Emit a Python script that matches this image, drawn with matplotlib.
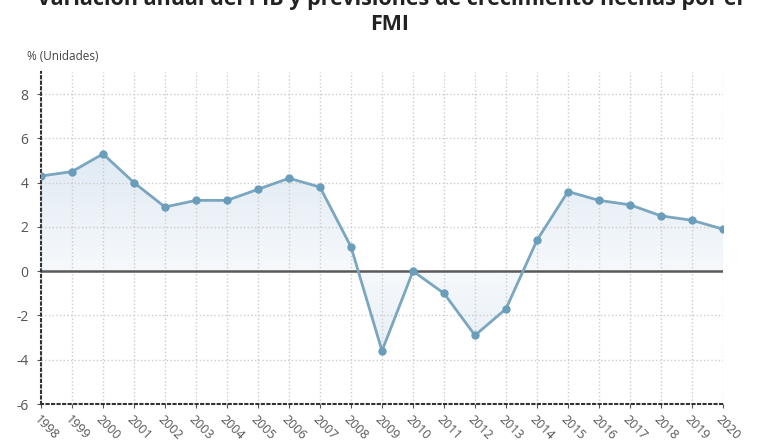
import matplotlib.pyplot as plt
import numpy as np
from matplotlib.colors import LinearSegmentedColormap

# Datos: variacion anual del PIB (%)
years = list(range(1998, 2021))
pib = [4.3, 4.5, 5.3, 4.0, 2.9, 3.2, 3.2, 3.7, 4.2, 3.8, 1.1, -3.6, 0.0,
       -1.0, -2.9, -1.7, 1.4, 3.6, 3.2, 3.0, 2.5, 2.3, 1.9]
y_ticks = [-6, -4, -2, 0, 2, 4, 6, 8]

plt.rcParams['font.family'] = ['Open Sans', 'DejaVu Sans']

fig = plt.figure(figsize=(7.8, 4.4), dpi=100)
ax = fig.add_axes([41 / 780, 36 / 440, 682 / 780, 332 / 440])

line_col = '#7aa6bf'

# area with a soft gradient (darker away from zero)
fill = ax.fill_between(years, pib, 0, color='none', lw=0, zorder=1)
cmap = LinearSegmentedColormap.from_list('area', ['#f6f9fc', '#dfeaf3'])
grad = np.abs(np.linspace(9, -6, 300))[:, None] * np.ones((1, 10))
img = ax.imshow(grad, cmap=cmap, vmin=0, vmax=5.5, aspect='auto',
                extent=[1998, 2020, -6, 9], zorder=1)
img.set_clip_path(fill.get_paths()[0], transform=ax.transData)

ax.axhline(0, color='#5a5a5a', lw=1.8, zorder=2)
ax.plot(years, pib, color=line_col, lw=2, marker='o', markersize=5,
        markerfacecolor='#6a9dba', markeredgecolor='#6a9dba', zorder=3)

ax.set_xlim(1998, 2020)
ax.set_ylim(-6, 9)
ax.set_xticks(years)
ax.set_xticklabels([str(y) for y in years], rotation=-45, ha='left',
                   rotation_mode='anchor', fontsize=9, color='#555555')
ax.set_yticks(y_ticks)
ax.set_yticklabels([str(v) for v in y_ticks], fontsize=10, color='#555555')
ax.tick_params(axis='both', length=3, color='#555555')
ax.tick_params(axis='y', pad=6)

ax.grid(True, color='#cccccc', linestyle=':', lw=1, zorder=0)
for side in ['top', 'right']:
    ax.spines[side].set_visible(False)
for side in ['left', 'bottom']:
    ax.spines[side].set_linestyle(':')
    ax.spines[side].set_color('#333333')
    ax.spines[side].set_linewidth(1.5)

fig.text(0.5, 1 + 1 / 440, 'Variación anual del PIB y previsiones de crecimiento hechas por el',
         ha='center', va='center', fontsize=15.5, fontweight='bold', color='#222222')
fig.text(0.5, 1 - 25 / 440, 'FMI', ha='center', va='center', fontsize=15.5,
         fontweight='bold', color='#222222')
fig.text(27 / 780, 1 - 57 / 440, '% (Unidades)', ha='left', va='center',
         fontsize=8.5, color='#444444')

fig.savefig('out.png', dpi=100)
